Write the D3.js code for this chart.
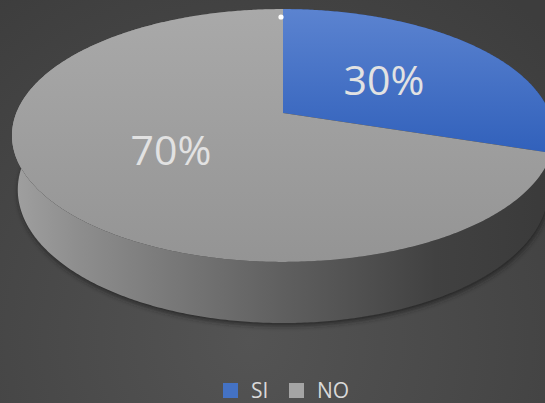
<!DOCTYPE html>
<html><head><meta charset="utf-8">
<script src="https://cdn.jsdelivr.net/npm/d3@7"></script>
<style>html,body{margin:0;padding:0;background:#474747;}svg{display:block;}</style>
</head><body>
<svg id="c" width="545" height="403"></svg>
<script>
const categories = ["SI", "NO"];
const values = [30, 70];
const labels = ["30%", "70%"];
const colors = ["#4472C4", "#A5A5A5"];

const W = 545, H = 403;
const svg = d3.select("#c");
const defs = svg.append("defs");

// background
const bg = defs.append("radialGradient").attr("id","bg").attr("gradientUnits","userSpaceOnUse")
  .attr("cx",250).attr("cy",340).attr("r",430);
bg.append("stop").attr("offset",0).attr("stop-color","#545454");
bg.append("stop").attr("offset",1).attr("stop-color","#3d3d3d");
svg.append("rect").attr("width",W).attr("height",H).attr("fill","url(#bg)");

// perspective projection of a disc
const cx = 283, cy = 113, fr = 266.7, r = 0.2003, sinP = 0.459, cosP = 0.888, thick = 0.231;
function proj(theta, rr, yUp) {
  const x3 = rr * Math.sin(theta), z3 = rr * Math.cos(theta);
  const v = z3 * sinP + yUp * cosP, w = z3 * cosP - yUp * sinP;
  const d = 1 + r * w;
  return [cx + fr * x3 / d, cy - fr * v / d];
}
function arcPts(a0, a1, yUp) {
  const n = Math.max(2, Math.ceil((a1 - a0) / 0.01));
  return d3.range(n + 1).map(i => proj(a0 + (a1 - a0) * i / n, 1, yUp));
}
const line = d3.line();
const pie = d3.pie().sort(null).value(d => d);
const arcs = pie(values);

// gradients
const topG = [["#5b83d0", "#2f5fba"], ["#a9a9a9", "#949494"]];
arcs.forEach((a, i) => {
  const g = defs.append("linearGradient").attr("id", "top" + i).attr("gradientUnits","userSpaceOnUse")
    .attr("x1",0).attr("y1",10).attr("x2",0).attr("y2", i === 0 ? 160 : 262);
  g.append("stop").attr("offset",0).attr("stop-color",topG[i][0]);
  g.append("stop").attr("offset",1).attr("stop-color",topG[i][1]);
});
const sideStops = [
  [[0,"#3a5fa8"],[1,"#1e3a72"]],
  [[0,"#a0a0a0"],[0.12,"#8e8e8e"],[0.5,"#5f5f5f"],[0.78,"#414141"],[1,"#3a3a3a"]]
];
arcs.forEach((a, i) => {
  const g = defs.append("linearGradient").attr("id","side"+i).attr("gradientUnits","userSpaceOnUse")
    .attr("x1",12).attr("y1",0).attr("x2",555).attr("y2",0);
  sideStops[i].forEach(s => g.append("stop").attr("offset",s[0]).attr("stop-color",s[1]));
});
defs.append("filter").attr("id","blur").attr("x","-20%").attr("y","-20%").attr("width","140%").attr("height","140%")
  .append("feGaussianBlur").attr("stdDeviation",2.5);

// drop shadow
const shadowPts = arcPts(0, 2 * Math.PI, -thick).map(p => [p[0] + 1, p[1] + 3]);
svg.append("path").attr("d", line(shadowPts) + "Z").attr("fill","#1a1a1a").attr("opacity",0.7).attr("filter","url(#blur)");

// sides
arcs.forEach((a, i) => {
  const topE = arcPts(a.startAngle, a.endAngle, 0);
  const botE = arcPts(a.startAngle, a.endAngle, -thick).reverse();
  svg.append("path").attr("d", line(topE.concat(botE)) + "Z").attr("fill", "url(#side" + i + ")");
});

// top faces
arcs.forEach((a, i) => {
  const pts = [proj(0, 0, 0)].concat(arcPts(a.startAngle, a.endAngle, 0));
  svg.append("path").attr("d", line(pts) + "Z").attr("fill", "url(#top" + i + ")");
});

// small white marker
svg.append("circle").attr("cx",281).attr("cy",17).attr("r",2.6).attr("fill","#ffffff");

// data labels
const labelPos = [[384, 95], [171, 165]];
arcs.forEach((a, i) => {
  svg.append("text").attr("x", labelPos[i][0]).attr("y", labelPos[i][1])
    .attr("text-anchor","middle").attr("font-family","'Open Sans', sans-serif").attr("font-size",41)
    .attr("fill","#e2e2e2").text(labels[i]);
});

// legend
const legX = [223, 289];
categories.forEach((c, i) => {
  svg.append("rect").attr("x", legX[i]).attr("y", 383).attr("width", 15).attr("height", 15).attr("fill", colors[i]);
  svg.append("text").attr("x", legX[i] + 28).attr("y", 398).attr("font-family","'Open Sans', sans-serif")
    .attr("font-size", 21).attr("fill","#d9d9d9").text(c);
});
</script>
</body></html>
